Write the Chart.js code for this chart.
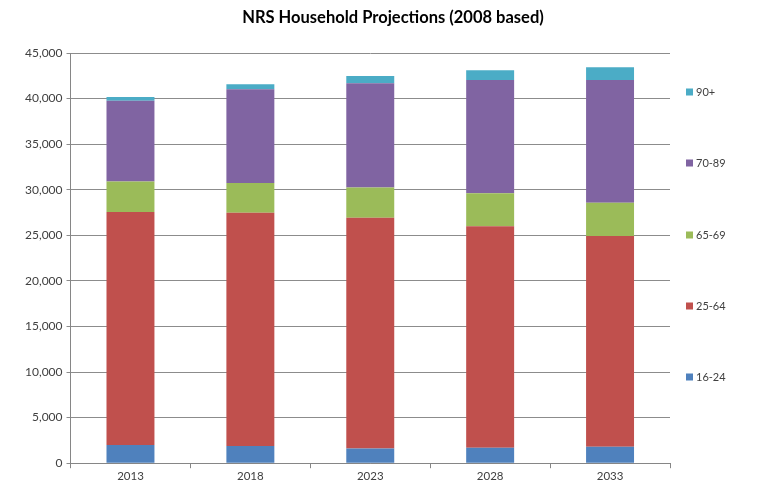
<!DOCTYPE html>
<html>
<head>
<meta charset="utf-8">
<script src="https://cdn.jsdelivr.net/npm/chart.js@4/dist/chart.umd.min.js"></script>
<style>
  html, body { margin: 0; padding: 0; background: #fff; }
  #wrap { width: 767px; height: 486px; }
</style>
</head>
<body>
<div id="wrap"><canvas id="chart" width="767" height="486"></canvas></div>
<script>
const years = ['2013', '2018', '2023', '2028', '2033'];

// households by age group of head of household
const age16to24 = [2000, 1900, 1600, 1700, 1800];
const age25to64 = [25550, 25570, 25320, 24290, 23130];
const age65to69 = [3350, 3280, 3330, 3630, 3630];
const age70to89 = [8850, 10270, 11430, 12420, 13480];
const age90plus = [430, 550, 800, 1060, 1390];

const chartTitle = 'NRS Household Projections (2008 based)';
const FONT = 'Lato, "Open Sans", sans-serif';

// Excel-style legend on the right, spread out vertically
const sideLegend = {
    id: 'sideLegend',
    afterDraw(chart) {
        const ctx = chart.ctx;
        ctx.save();
        ctx.fillStyle = '#000';
        ctx.font = 'bold 16.5px ' + FONT;
        ctx.textAlign = 'center';
        ctx.textBaseline = 'middle';
        ctx.fillText(chartTitle, 393, 18);

        const ys = [377, 306, 235, 163, 92];
        ctx.font = '11px ' + FONT;
        ctx.textAlign = 'left';
        chart.data.datasets.forEach((ds, i) => {
            ctx.fillStyle = ds.backgroundColor;
            ctx.fillRect(686, ys[i] - 3.5, 7, 7);
            ctx.fillStyle = '#404040';
            ctx.fillText(ds.label, 696, ys[i] + 0.5);
        });
        ctx.restore();
    }
};

const ctx = document.getElementById('chart').getContext('2d');
new Chart(ctx, {
    type: 'bar',
    data: {
        labels: years,
        datasets: [
            { label: '16-24', data: age16to24, backgroundColor: '#4F81BD' },
            { label: '25-64', data: age25to64, backgroundColor: '#C0504D' },
            { label: '65-69', data: age65to69, backgroundColor: '#9BBB59' },
            { label: '70-89', data: age70to89, backgroundColor: '#8064A2' },
            { label: '90+', data: age90plus, backgroundColor: '#4BACC6' }
        ]
    },
    options: {
        responsive: false,
        animation: false,
        layout: { padding: { left: 21, right: 97, top: 53, bottom: 2 } },
        datasets: { bar: { barPercentage: 0.4, categoryPercentage: 1.0 } },
        plugins: {
            legend: { display: false },
            title: { display: false },
            tooltip: { enabled: false }
        },
        scales: {
            x: {
                stacked: true,
                grid: { drawOnChartArea: false, color: '#868686', tickLength: 5 },
                border: { color: '#868686' },
                ticks: { color: '#404040', font: { family: FONT, size: 11.5 }, padding: 1 }
            },
            y: {
                stacked: true,
                min: 0,
                max: 45000,
                grid: { color: '#8c8c8c', tickLength: 4 },
                border: { color: '#868686' },
                ticks: {
                    stepSize: 5000,
                    color: '#404040',
                    font: { family: FONT, size: 12 },
                    padding: 4,
                    callback: v => v.toLocaleString('en-US')
                }
            }
        }
    },
    plugins: [sideLegend]
});
</script>
</body>
</html>
